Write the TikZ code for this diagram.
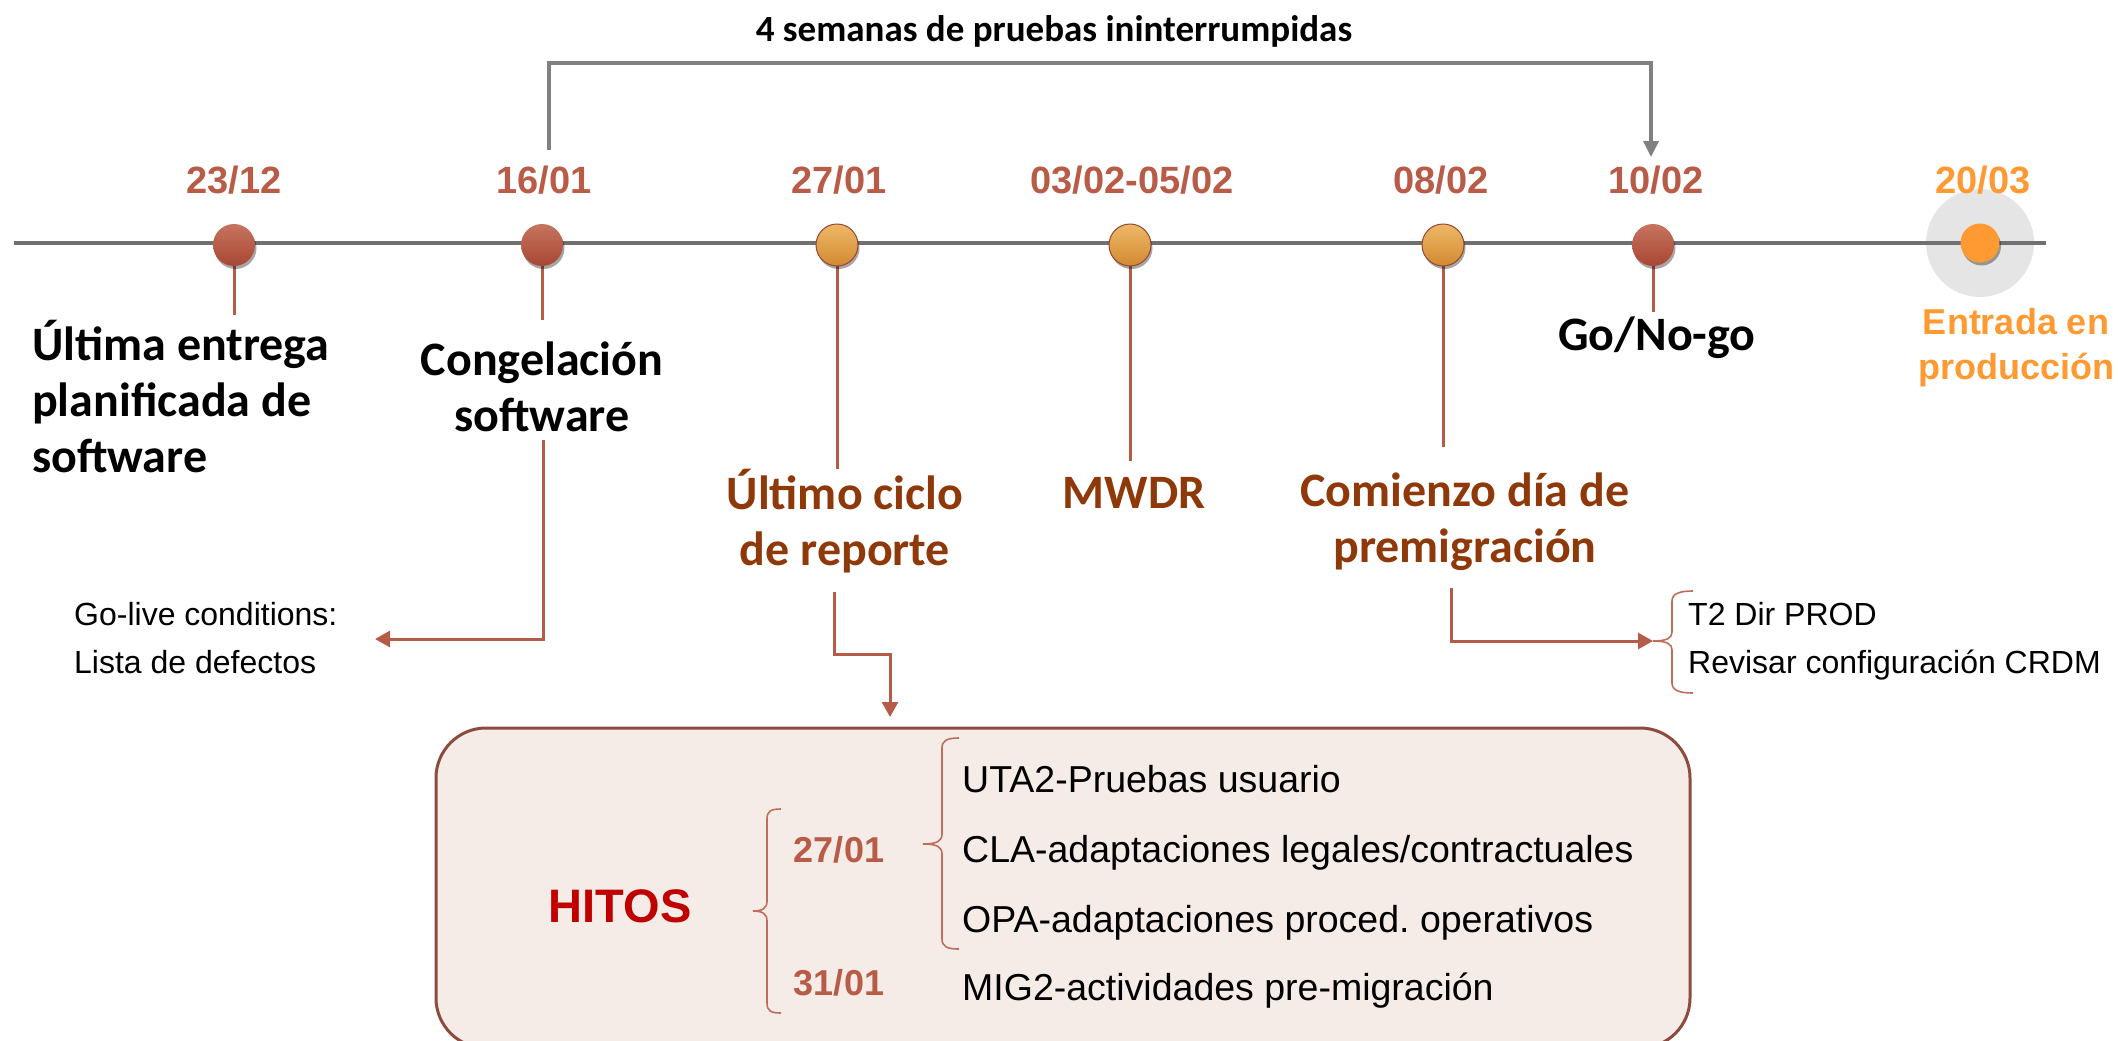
\documentclass[tikz,border=0pt]{standalone}
\usepackage{fontspec}
\setmainfont{Liberation Sans}
\newfontfamily\calfont{Carlito}
\usetikzlibrary{arrows.meta,shadows}
\frenchspacing
\definecolor{datec}{RGB}{184,92,71}
\definecolor{stemc}{RGB}{181,92,72}
\definecolor{labc}{RGB}{143,57,10}
\definecolor{hitc}{RGB}{192,0,0}
\definecolor{orac}{RGB}{255,154,51}
\definecolor{linec}{RGB}{112,112,112}
\definecolor{brkc}{RGB}{128,128,128}
\definecolor{boxfill}{RGB}{245,236,232}
\definecolor{boxdraw}{RGB}{140,75,60}
\definecolor{haloc}{RGB}{229,229,229}
\definecolor{bracec}{RGB}{190,110,90}
\begin{document}
\frenchspacing
\begin{tikzpicture}[x=1pt,y=-1pt,
  datelab/.style={font=\bfseries\fontsize{38}{44}\selectfont, text=datec, inner sep=0pt, anchor=base},
  biglab/.style={font=\calfont\bfseries\fontsize{48}{56}\selectfont, align=center, inner sep=0pt},
  smalltxt/.style={font=\fontsize{32}{48}\selectfont, inner sep=0pt},
  itemtxt/.style={font=\fontsize{37.5}{44}\selectfont, inner sep=0pt, anchor=base west},
  dotshadow/.style={drop shadow={shadow xshift=1.5pt, shadow yshift=-3pt, opacity=0.35, fill=black}},
  reddot/.style={circle, minimum size=42pt, inner sep=0pt, top color={rgb,255:red,198;green,116;blue,96}, bottom color={rgb,255:red,168;green,70;blue,50}, dotshadow},
  oradot/.style={circle, minimum size=42pt, inner sep=0pt, draw={rgb,255:red,150;green,70;blue,50}, line width=1pt, top color={rgb,255:red,238;green,184;blue,104}, bottom color={rgb,255:red,210;green,138;blue,48}, dotshadow},
  stem/.style={stemc, line width=3pt},
  stemarrow/.style={stemc, line width=3pt, -{Triangle[length=15pt,width=16pt]}},
  bracket/.style={brkc, line width=3.5pt, -{Triangle[length=16pt,width=15pt]}},
  bracepath/.style={bracec, line width=1.6pt}
]
\useasboundingbox (0,0) rectangle (2118,1041);

% title and bracket
\node[font=\calfont\bfseries\fontsize{37}{44}\selectfont, inner sep=0pt, anchor=base] (title) at (1054,42) {4 semanas de pruebas ininterrumpidas};
\coordinate (g1) at (549,150);
\coordinate (g2) at (549,63);
\coordinate (g3) at (1651,63);
\coordinate (g4) at (1651,157);
\draw[bracket] (g1) -- (g2) -- (g3) -- (g4);

% halo
\node[circle, fill=haloc, minimum size=108pt, inner sep=0pt] (halo) at (1980,243) {};

% timeline
\coordinate (tl1) at (14,243);
\coordinate (tl2) at (2046,243);
\draw[linec, line width=4pt] (tl1) -- (tl2);

% stem end points
\coordinate (s1) at (234,315);
\coordinate (s2) at (542,320);
\coordinate (s3) at (837,469);
\coordinate (s4) at (1130,461);
\coordinate (s5) at (1443,447);
\coordinate (s6) at (1653,312);
\draw[stem] (234,245) -- (s1);
\draw[stem] (542,245) -- (s2);
\draw[stem] (837,245) -- (s3);
\draw[stem] (1130,245) -- (s4);
\draw[stem] (1443,245) -- (s5);
\draw[stem] (1653,245) -- (s6);

% dots
\node[reddot] (d1) at (234,245) {};
\node[reddot] (d2) at (542,245) {};
\node[oradot] (d3) at (837,245) {};
\node[oradot] (d4) at (1130,245) {};
\node[oradot] (d5) at (1443,245) {};
\node[reddot] (d6) at (1653,245) {};
\node[circle, minimum size=39pt, inner sep=0pt, fill=orac, dotshadow] (d7) at (1980,243) {};

% dates
\node[datelab] (t1) at (234,193) {23/12};
\node[datelab] (t2) at (544,193) {16/01};
\node[datelab] (t3) at (839,193) {27/01};
\node[datelab] (t4) at (1132,193) {03/02-05/02};
\node[datelab] (t5) at (1441,193) {08/02};
\node[datelab] (t6) at (1656,193) {10/02};
\node[datelab, text=orac] (t7) at (1983,193) {20/03};

% labels
\node[biglab, align=left, anchor=west] (l1) at (32,397) {Última entrega\\planificada de\\software};
\node[biglab] (l2) at (542,387) {Congelación\\software};
\node[biglab, text=labc] (l3) at (845,521) {Último ciclo\\de reporte};
\node[biglab, text=labc, anchor=base] (l4) at (1134,508) {MWDR};
\node[biglab, text=labc] (l5) at (1465,522) {Comienzo día de\\premigración};
\node[biglab, anchor=base] (l6) at (1657,350) {Go/No-go};
\node[font=\bfseries\fontsize{36}{45}\selectfont, text=orac, align=center, inner sep=0pt] (l7) at (2016,348) {Entrada en\\producción};

% side notes
\node[smalltxt, align=left, anchor=west] (golive) at (74,638) {Go-live conditions:\\Lista de defectos};
\node[smalltxt, align=left, anchor=west] (t2dir) at (1688,641) {T2 Dir PROD\\Revisar configuración CRDM};

% connectors
\coordinate (c2a) at (543,440);
\coordinate (c2b) at (375,639);
\draw[stemarrow] (c2a) |- (c2b);
\coordinate (c3a) at (834,592);
\coordinate (c3m) at (890,654);
\coordinate (c3b) at (890,717);
\draw[stemarrow] (c3a) |- (c3m) -- (c3b);
\coordinate (c5a) at (1451,588);
\coordinate (c5b) at (1653,641);
\draw[stemarrow] (c5a) |- (c5b);

% right brace
\draw[bracepath] (1693,591) .. controls (1681,591) and (1672,593) .. (1672,601) -- (1672,632) .. controls (1672,638) and (1667,641) .. (1653,641) .. controls (1667,641) and (1672,644) .. (1672,650) -- (1672,683) .. controls (1672,691) and (1681,693) .. (1693,693);

% milestone box
\node[draw=boxdraw, line width=3pt, fill=boxfill, rounded corners=50pt, minimum width=1254pt, minimum height=320pt, inner sep=0pt] (box) at (1063,888) {};
\node[font=\bfseries\fontsize{47}{54}\selectfont, text=hitc, inner sep=0pt, anchor=base] (hitos) at (620,922) {HITOS};
\draw[bracepath] (781,809) .. controls (771,809) and (767,811) .. (767,819) -- (767,901) .. controls (767,908) and (763,911) .. (753,911) .. controls (763,911) and (767,914) .. (767,921) -- (767,1003) .. controls (767,1011) and (771,1013) .. (781,1013);
\node[datelab, font=\bfseries\fontsize{36}{44}\selectfont] (h1) at (839,862) {27/01};
\node[datelab, font=\bfseries\fontsize{36}{44}\selectfont] (h2) at (839,995) {31/01};
\draw[bracepath] (959,738) .. controls (948,738) and (942,740) .. (942,748) -- (942,834) .. controls (942,841) and (937,844) .. (923,844) .. controls (937,844) and (942,847) .. (942,854) -- (942,939) .. controls (942,947) and (948,949) .. (959,949);
\node[itemtxt] (i1) at (962,792) {UTA2-Pruebas usuario};
\node[itemtxt] (i2) at (962,862) {CLA-adaptaciones legales/contractuales};
\node[itemtxt] (i3) at (962,932) {OPA-adaptaciones proced. operativos};
\node[itemtxt] (i4) at (962,1000) {MIG2-actividades pre-migración};
\end{tikzpicture}
\end{document}
